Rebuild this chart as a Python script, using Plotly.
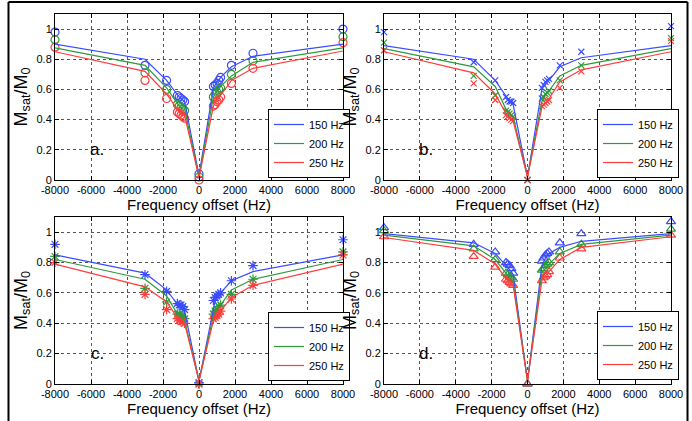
import plotly.graph_objects as go

freq = [-8000, -3000, -1800, -1200, -1100, -1000, -900, -800, 0,
        800, 900, 1000, 1100, 1200, 1800, 3000, 8000]
series_names = ["150 Hz", "200 Hz", "250 Hz"]

# ---- panel a (circles) ----
a_fit_150 = [0.90, 0.80, 0.66, 0.56, 0.55, 0.54, 0.53, 0.52, 0.03, 0.61, 0.63, 0.65, 0.66, 0.68, 0.75, 0.82, 0.90]
a_fit_200 = [0.875, 0.76, 0.61, 0.50, 0.49, 0.48, 0.47, 0.47, 0.02, 0.55, 0.57, 0.59, 0.60, 0.62, 0.69, 0.78, 0.875]
a_fit_250 = [0.85, 0.72, 0.57, 0.46, 0.45, 0.44, 0.43, 0.43, 0.015, 0.49, 0.51, 0.53, 0.54, 0.56, 0.66, 0.74, 0.855]
a_dat_150 = [0.98, 0.76, 0.66, 0.56, 0.55, 0.54, 0.53, 0.52, 0.04, 0.62, 0.63, 0.64, 0.66, 0.68, 0.76, 0.84, 1.00]
a_dat_200 = [0.93, 0.71, 0.60, 0.50, 0.49, 0.48, 0.47, 0.46, 0.02, 0.55, 0.57, 0.58, 0.60, 0.61, 0.70, 0.79, 0.95]
a_dat_250 = [0.88, 0.66, 0.54, 0.45, 0.44, 0.43, 0.42, 0.41, 0.00, 0.49, 0.50, 0.52, 0.53, 0.55, 0.64, 0.74, 0.91]

# ---- panel b (crosses) ----
b_fit_150 = [0.89, 0.80, 0.66, 0.55, 0.54, 0.53, 0.51, 0.50, 0.02, 0.60, 0.62, 0.63, 0.65, 0.66, 0.75, 0.81, 0.89]
b_fit_200 = [0.87, 0.75, 0.62, 0.47, 0.46, 0.45, 0.43, 0.42, 0.02, 0.52, 0.54, 0.56, 0.58, 0.59, 0.69, 0.76, 0.87]
b_fit_250 = [0.85, 0.71, 0.57, 0.44, 0.43, 0.42, 0.40, 0.39, 0.02, 0.48, 0.50, 0.51, 0.53, 0.54, 0.65, 0.73, 0.85]
b_dat_150 = [0.98, 0.78, 0.66, 0.55, 0.53, 0.52, 0.52, 0.51, 0.00, 0.61, 0.63, 0.65, 0.66, 0.67, 0.76, 0.85, 1.02]
b_dat_200 = [0.91, 0.69, 0.56, 0.46, 0.45, 0.44, 0.43, 0.42, 0.00, 0.54, 0.55, 0.57, 0.58, 0.59, 0.66, 0.76, 0.94]
b_dat_250 = [0.86, 0.64, 0.53, 0.43, 0.42, 0.41, 0.40, 0.39, 0.00, 0.49, 0.50, 0.51, 0.52, 0.53, 0.61, 0.72, 0.92]

# ---- panel c (asterisks) ----
c_fit_150 = [0.85, 0.73, 0.62, 0.52, 0.51, 0.50, 0.49, 0.48, 0.02, 0.50, 0.55, 0.57, 0.59, 0.60, 0.68, 0.74, 0.85]
c_fit_200 = [0.82, 0.69, 0.58, 0.46, 0.45, 0.44, 0.43, 0.42, 0.02, 0.45, 0.47, 0.49, 0.51, 0.52, 0.62, 0.69, 0.82]
c_fit_250 = [0.79, 0.64, 0.54, 0.43, 0.42, 0.41, 0.40, 0.40, 0.02, 0.42, 0.44, 0.45, 0.47, 0.48, 0.57, 0.65, 0.79]
c_dat_150 = [0.92, 0.72, 0.61, 0.53, 0.52, 0.52, 0.51, 0.49, 0.01, 0.55, 0.57, 0.58, 0.59, 0.60, 0.68, 0.78, 0.95]
c_dat_200 = [0.84, 0.63, 0.54, 0.46, 0.46, 0.45, 0.44, 0.43, 0.00, 0.46, 0.48, 0.49, 0.51, 0.52, 0.59, 0.69, 0.87]
c_dat_250 = [0.80, 0.59, 0.49, 0.43, 0.42, 0.41, 0.41, 0.40, 0.00, 0.43, 0.44, 0.45, 0.46, 0.48, 0.56, 0.65, 0.85]

# ---- panel d (triangles) ----
d_fit_150 = [0.99, 0.93, 0.86, 0.78, 0.77, 0.76, 0.74, 0.72, 0.02, 0.78, 0.81, 0.83, 0.85, 0.86, 0.90, 0.94, 0.99]
d_fit_200 = [0.98, 0.91, 0.82, 0.73, 0.72, 0.70, 0.69, 0.67, 0.02, 0.73, 0.75, 0.76, 0.78, 0.79, 0.86, 0.92, 0.98]
d_fit_250 = [0.965, 0.88, 0.79, 0.69, 0.68, 0.67, 0.66, 0.65, 0.02, 0.68, 0.70, 0.71, 0.73, 0.74, 0.82, 0.90, 0.97]
d_dat_150 = [1.03, 0.92, 0.87, 0.80, 0.79, 0.78, 0.76, 0.73, 0.00, 0.81, 0.83, 0.85, 0.86, 0.87, 0.93, 0.99, 1.07]
d_dat_200 = [1.01, 0.89, 0.82, 0.73, 0.72, 0.71, 0.70, 0.69, 0.00, 0.75, 0.76, 0.78, 0.79, 0.80, 0.87, 0.92, 1.02]
d_dat_250 = [0.97, 0.84, 0.77, 0.69, 0.68, 0.67, 0.66, 0.65, 0.00, 0.68, 0.70, 0.71, 0.72, 0.74, 0.83, 0.89, 0.98]

x_ticks = [-8000, -6000, -4000, -2000, 0, 2000, 4000, 6000, 8000]
y_ticks = [0, 0.2, 0.4, 0.6, 0.8, 1]
panel_labels = ["a.", "b.", "c.", "d."]

W, H = 692, 421
line_colors = ["#3a4cff", "#2e9a3a", "#ff3c3c"]
marker_symbols = ["circle-open", "x-thin-open", "asterisk-open", "triangle-up-open"]

panels = [
    (a_fit_150, a_fit_200, a_fit_250, a_dat_150, a_dat_200, a_dat_250),
    (b_fit_150, b_fit_200, b_fit_250, b_dat_150, b_dat_200, b_dat_250),
    (c_fit_150, c_fit_200, c_fit_250, c_dat_150, c_dat_200, c_dat_250),
    (d_fit_150, d_fit_200, d_fit_250, d_dat_150, d_dat_200, d_dat_250),
]

# pixel boxes (left, right, top, bottom)
boxes = [(55, 343, 14, 180), (384, 671, 14, 180), (55, 343, 217, 384), (384, 671, 217, 384)]
legend_pos = [(268, 178), (597, 178), (268, 381), (597, 380)]  # left, bottom

fig = go.Figure()
font_fam = "Liberation Sans, Arial, sans-serif"

for i, (vals, box) in enumerate(zip(panels, boxes)):
    n = i + 1
    xa = "x" if n == 1 else f"x{n}"
    ya = "y" if n == 1 else f"y{n}"
    lg = "legend" if n == 1 else f"legend{n}"
    fits = vals[:3]
    dats = vals[3:]
    for k in range(3):
        fig.add_trace(go.Scatter(
            x=freq, y=dats[k], mode="markers", xaxis=xa, yaxis=ya,
            marker=dict(symbol=marker_symbols[i], size=8 if i != 1 else 6,
                        color=line_colors[k], line=dict(width=1.2, color=line_colors[k])),
            showlegend=False, cliponaxis=False))
    for k in range(3):
        fig.add_trace(go.Scatter(
            x=freq, y=fits[k], mode="lines", xaxis=xa, yaxis=ya,
            line=dict(color=line_colors[k], width=1.2),
            name=series_names[k], legend=lg, showlegend=True))
    l, r, t, b = box
    xdom = [l / W, r / W]
    ydom = [1 - b / H, 1 - t / H]
    axis_common = dict(showline=True, linecolor="black", linewidth=1, mirror="ticks",
                       ticks="inside", ticklen=4, tickcolor="black", automargin=False,
                       showgrid=True, gridcolor="#555555", griddash="dot", gridwidth=1,
                       zeroline=False, tickfont=dict(size=11, family=font_fam, color="black"))
    xkey = "xaxis" if n == 1 else f"xaxis{n}"
    ykey = "yaxis" if n == 1 else f"yaxis{n}"
    fig.layout[xkey] = dict(domain=xdom, range=[-8000, 8000], tickvals=x_ticks,
                            ticktext=[str(v) for v in x_ticks], anchor=ya,
                            title=dict(text="Frequency offset (Hz)", standoff=3,
                                       font=dict(size=15, family=font_fam, color="black")),
                            **axis_common)
    fig.layout[ykey] = dict(domain=ydom, range=[0, 1.1], tickvals=y_ticks,
                            ticktext=["0", "0.2", "0.4", "0.6", "0.8", "1"], anchor=xa,
                            title=dict(text="M<sub>sat</sub>/M<sub>0</sub>", standoff=4,
                                       font=dict(size=18, family=font_fam, color="black")),
                            **axis_common)
    lx, ly = legend_pos[i]
    fig.layout[lg] = dict(x=lx / W, y=1 - ly / H, xanchor="left", yanchor="bottom",
                          bgcolor="white", bordercolor="black", borderwidth=1,
                          font=dict(size=11, family=font_fam, color="black"),
                          tracegroupgap=0, itemwidth=30)
    # panel label
    fig.add_annotation(x=-5650, y=0.2, xref=xa, yref=ya, text=panel_labels[i],
                       showarrow=False, font=dict(size=17, family=font_fam, color="black"))

# outer frame (open at bottom)
fig.add_shape(type="line", xref="paper", yref="paper", x0=8.5 / W, x1=8.5 / W, y0=-0.02, y1=1 - 2 / H,
              line=dict(color="black", width=2))
fig.add_shape(type="line", xref="paper", yref="paper", x0=8.5 / W, x1=687.5 / W, y0=1 - 2 / H, y1=1 - 2 / H,
              line=dict(color="black", width=2))
fig.add_shape(type="line", xref="paper", yref="paper", x0=687.5 / W, x1=687.5 / W, y0=-0.02, y1=1 - 2 / H,
              line=dict(color="black", width=2))

fig.update_layout(width=W, height=H, margin=dict(l=0, r=0, t=0, b=0),
                  paper_bgcolor="white", plot_bgcolor="white", showlegend=True)

fig.write_html("out.html", config={"displayModeBar": False},
               post_script="document.body.style.margin='0px';document.body.style.overflow='hidden';")
